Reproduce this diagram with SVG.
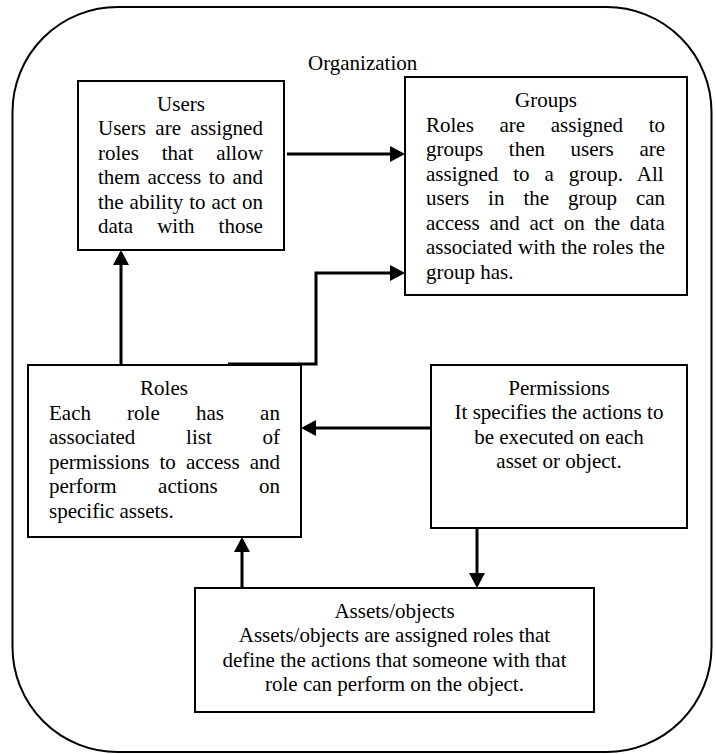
<svg xmlns="http://www.w3.org/2000/svg" width="716" height="754" viewBox="0 0 716 754">
<style>
text{font-family:"Liberation Serif","Times New Roman",serif;font-size:21px;fill:#000}
.c{text-anchor:middle}
.box{fill:#fff;stroke:#000;stroke-width:2}
.outer{fill:none;stroke:#000;stroke-width:2}
.conn{fill:none;stroke:#000;stroke-width:3}
</style>
<defs>
<marker id="arr" markerUnits="userSpaceOnUse" markerWidth="16" markerHeight="16" refX="12" refY="8" orient="auto">
<path d="M0,0 L15,8 L0,16 Z" fill="#000"/>
</marker>
</defs>
<rect class="outer" x="12.5" y="7" width="699" height="745" rx="105" ry="105"/>
<text x="308" y="70">Organization</text>

<g id="users">
<rect class="box" x="78" y="81" width="206" height="169"/>
<text class="c" x="181" y="111">Users</text>
<text x="98" y="135" style="word-spacing:4.3px">Users are assigned</text>
<text x="98" y="160" style="word-spacing:17.7px">roles that allow</text>
<text x="98" y="184" style="word-spacing:2.3px">them access to and</text>
<text x="98" y="209" style="word-spacing:0.7px">the ability to act on</text>
<text x="98" y="233" style="word-spacing:18.9px">data with those</text>
</g>

<g id="groups">
<rect class="box" x="405" y="77" width="282" height="218"/>
<text class="c" x="546" y="107">Groups</text>
<text x="426" y="132" style="word-spacing:20.4px">Roles are assigned to</text>
<text x="426" y="156" style="word-spacing:20.4px">groups then users are</text>
<text x="426" y="181" style="word-spacing:9.7px">assigned to a group. All</text>
<text x="426" y="205" style="word-spacing:13.7px">users in the group can</text>
<text x="426" y="230" style="word-spacing:4.5px">access and act on the data</text>
<text x="426" y="254" style="word-spacing:0.5px">associated with the roles the</text>
<text x="426" y="279">group has.</text>
</g>

<g id="roles">
<rect class="box" x="28" y="365" width="273" height="172"/>
<text class="c" x="164" y="395">Roles</text>
<text x="49" y="420" style="word-spacing:30.9px">Each role has an</text>
<text x="49" y="444" style="word-spacing:45.5px">associated list of</text>
<text x="49" y="469" style="word-spacing:4.9px">permissions to access and</text>
<text x="49" y="493" style="word-spacing:36.2px">perform actions on</text>
<text x="49" y="518">specific assets.</text>
</g>

<g id="permissions">
<rect class="box" x="431" y="365" width="256" height="163"/>
<text class="c" x="559" y="395">Permissions</text>
<text class="c" x="559" y="419">It specifies the actions to</text>
<text class="c" x="559" y="444">be executed on each</text>
<text class="c" x="559" y="468">asset or object.</text>
</g>

<g id="assets">
<rect class="box" x="195" y="588" width="399" height="124"/>
<text class="c" x="394.5" y="618">Assets/objects</text>
<text class="c" x="394.5" y="642">Assets/objects are assigned roles that</text>
<text class="c" x="394.5" y="667">define the actions that someone with that</text>
<text class="c" x="394.5" y="691">role can perform on the object.</text>
</g>

<g id="connectors">
<path class="conn" d="M287,154 L402,154" marker-end="url(#arr)"/>
<path class="conn" d="M121,365 L121,253" marker-end="url(#arr)"/>
<path class="conn" d="M228,364 L316,364 L316,273 L402,273" marker-end="url(#arr)"/>
<path class="conn" d="M431,428 L304,428" marker-end="url(#arr)"/>
<path class="conn" d="M477,528 L477,585" marker-end="url(#arr)"/>
<path class="conn" d="M242,588 L242,540" marker-end="url(#arr)"/>
</g>
</svg>
